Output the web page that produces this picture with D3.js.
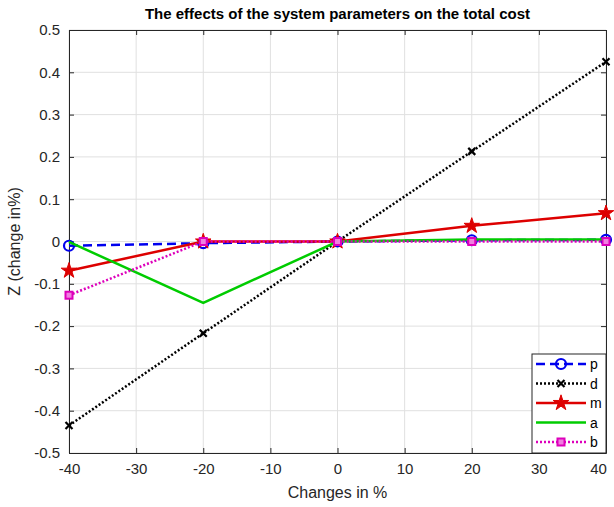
<!DOCTYPE html>
<html><head><meta charset="utf-8">
<script src="https://cdn.jsdelivr.net/npm/d3@7"></script>
<style>body{margin:0;background:#fff}svg{font-family:"Liberation Sans",Arial,sans-serif}</style>
</head><body><svg id="c" width="614" height="507"></svg>
<script>
const xValues = [-40, -20, 0, 20, 40];
const pValues = [-0.010, -0.004, 0, 0.003, 0.004];
const dValues = [-0.435, -0.217, 0, 0.213, 0.425];
const mValues = [-0.069, 0, 0, 0.037, 0.067];
const aValues = [-0.001, -0.145, 0, 0.005, 0.005];
const bValues = [-0.127, 0, 0, 0, 0];
const xTicks = [-40, -30, -20, -10, 0, 10, 20, 30, 40];
const yTicks = [-0.5, -0.4, -0.3, -0.2, -0.1, 0, 0.1, 0.2, 0.3, 0.4, 0.5];

const series = [
  {name: "p", values: pValues, color: "#0000ee", dash: "9,5", width: 2.5, marker: "circle"},
  {name: "d", values: dValues, color: "#000000", dash: "2,2", width: 2.5, marker: "x"},
  {name: "m", values: mValues, color: "#dd0000", dash: null, width: 2.5, marker: "star"},
  {name: "a", values: aValues, color: "#00cc00", dash: null, width: 2.5, marker: null},
  {name: "b", values: bValues, color: "#dd00bb", dash: "2,2", width: 2.5, marker: "square"}
];

const svg = d3.select("#c");
const L = 69, R = 606, T = 30, B = 453;
const x = d3.scaleLinear().domain([-40, 40]).range([L, R]);
const y = d3.scaleLinear().domain([-0.5, 0.5]).range([B, T]);

// grid
const g = svg.append("g");
g.selectAll(".gx").data(xTicks).join("line")
  .attr("x1", d => x(d)).attr("x2", d => x(d)).attr("y1", T).attr("y2", B)
  .attr("stroke", "#e0e0e0").attr("stroke-width", 1);
g.selectAll(".gy").data(yTicks).join("line")
  .attr("y1", d => y(d)).attr("y2", d => y(d)).attr("x1", L).attr("x2", R)
  .attr("stroke", "#e0e0e0").attr("stroke-width", 1);

// axes
const xa = svg.append("g").attr("transform", `translate(0,${B})`)
  .call(d3.axisBottom(x).tickValues(xTicks).tickSizeInner(-5).tickSizeOuter(0).tickPadding(10).tickFormat(d => d));
const xt = svg.append("g").attr("transform", `translate(0,${T})`)
  .call(d3.axisTop(x).tickValues(xTicks).tickSizeInner(-5).tickSizeOuter(0).tickFormat(""));
const ya = svg.append("g").attr("transform", `translate(${L},0)`)
  .call(d3.axisLeft(y).tickValues(yTicks).tickSizeInner(-5).tickSizeOuter(0).tickPadding(9).tickFormat(d => String(+d.toFixed(1))));
const yr = svg.append("g").attr("transform", `translate(${R},0)`)
  .call(d3.axisRight(y).tickValues(yTicks).tickSizeInner(-5).tickSizeOuter(0).tickFormat(""));
[xa, xt, ya, yr].forEach(a => {
  a.select(".domain").attr("stroke", "#262626").attr("stroke-width", 1);
  a.selectAll(".tick line").attr("stroke", "#262626");
  a.selectAll("text").attr("font-size", 15).attr("fill", "#262626").attr("font-family", "Liberation Sans, Arial, sans-serif");
});
// keep last x label inside the window
xa.selectAll(".tick text").filter(d => d === 40).attr("dx", -8);

// lines
const line = d3.line().x((d, i) => x(xValues[i])).y(d => y(d));
const starPath = d3.symbol().type(d3.symbolStar).size(75)();
const plot = svg.append("g");

function drawMarker(sel, s, cx, cy, scale) {
  const k = scale || 1;
  if (s.marker === "circle") {
    sel.append("circle").attr("cx", cx).attr("cy", cy).attr("r", 5 * k)
      .attr("fill", "none").attr("stroke", s.color).attr("stroke-width", 2.2);
  } else if (s.marker === "x") {
    const r = 3.5 * k;
    sel.append("path").attr("d", `M${cx - r},${cy - r}L${cx + r},${cy + r}M${cx - r},${cy + r}L${cx + r},${cy - r}`)
      .attr("stroke", s.color).attr("stroke-width", 2.2).attr("fill", "none");
  } else if (s.marker === "star") {
    sel.append("path").attr("d", starPath).attr("transform", `translate(${cx},${cy}) scale(${k})`)
      .attr("fill", s.color).attr("stroke", s.color).attr("stroke-width", 1);
  } else if (s.marker === "square") {
    sel.append("rect").attr("x", cx - 3.5 * k).attr("y", cy - 3.5 * k).attr("width", 7 * k).attr("height", 7 * k)
      .attr("fill", "#f080e0").attr("stroke", s.color).attr("stroke-width", 2);
  }
}

series.forEach(s => {
  plot.append("path").datum(s.values).attr("d", line)
    .attr("fill", "none").attr("stroke", s.color).attr("stroke-width", s.width)
    .attr("stroke-dasharray", s.dash);
  s.values.forEach((v, i) => drawMarker(plot, s, x(xValues[i]), y(v)));
});

// title & labels
svg.append("text").attr("x", (L + R) / 2).attr("y", 19).attr("text-anchor", "middle")
  .attr("font-size", 15).attr("font-weight", "bold").attr("fill", "#000")
  .text("The effects of the system parameters on the total cost");
svg.append("text").attr("x", (L + R) / 2).attr("y", 498).attr("text-anchor", "middle")
  .attr("font-size", 16).attr("fill", "#262626").text("Changes in %");
svg.append("text").attr("transform", `translate(20,${(T + B) / 2}) rotate(-90)`).attr("text-anchor", "middle")
  .attr("font-size", 16).attr("fill", "#262626").text("Z (change in%)");

// legend
const lg = svg.append("g");
const lx = 532, ly = 354, lw = 74, lh = 99;
lg.append("rect").attr("x", lx).attr("y", ly).attr("width", lw).attr("height", lh)
  .attr("fill", "#fff").attr("stroke", "#262626").attr("stroke-width", 1);
series.forEach((s, i) => {
  const yy = ly + 10 + i * 19.5;
  lg.append("line").attr("x1", lx + 4).attr("x2", lx + 54).attr("y1", yy).attr("y2", yy)
    .attr("stroke", s.color).attr("stroke-width", s.width).attr("stroke-dasharray", s.dash);
  drawMarker(lg, s, lx + 29, yy, 1);
  lg.append("text").attr("x", lx + 58).attr("y", yy + 5).attr("font-size", 14).attr("fill", "#000").text(s.name);
});
</script></body></html>
